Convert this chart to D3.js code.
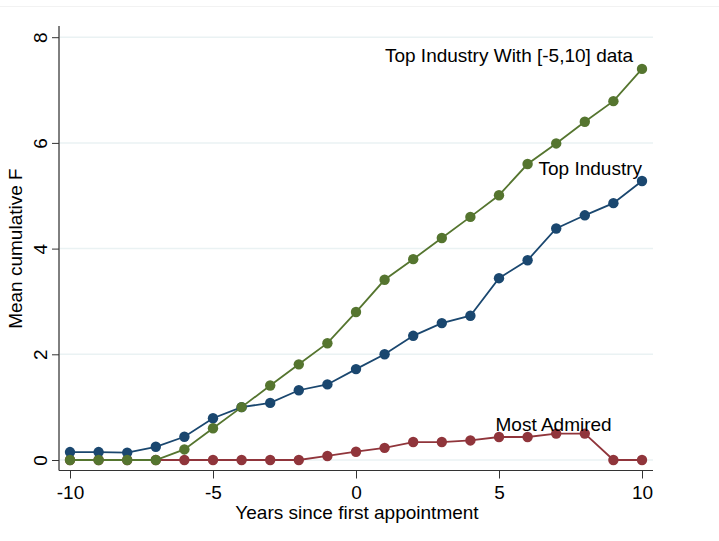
<!DOCTYPE html>
<html>
<head>
<meta charset="utf-8">
<script src="https://cdn.jsdelivr.net/npm/d3@7"></script>
<style>
  html, body { margin: 0; padding: 0; background: #fff; }
  svg { display: block; font-family: "Liberation Sans", Arial, sans-serif; }
</style>
</head>
<body>
<svg id="chart" width="719" height="541"></svg>
<script>
// ---- data ----
const years = [-10,-9,-8,-7,-6,-5,-4,-3,-2,-1,0,1,2,3,4,5,6,7,8,9,10];
const topIndustry = [0.15,0.15,0.14,0.25,0.44,0.79,1.0,1.08,1.32,1.43,1.72,2.0,2.35,2.59,2.73,3.44,3.78,4.38,4.63,4.86,5.28];
const topIndustryWith = [0,0,0,0,0.2,0.6,1.0,1.41,1.81,2.21,2.8,3.41,3.8,4.2,4.6,5.01,5.6,5.99,6.4,6.79,7.4];
const mostAdmired = [0,0,0,0,0,0,0,0,0,0.076,0.157,0.23,0.34,0.34,0.37,0.435,0.435,0.5,0.5,0,0];
const xTicks = [-10,-5,0,5,10];
const yTicks = [0,2,4,6,8];
const seriesNames = ["Most Admired","Top Industry","Top Industry With [-5,10] data"];
const xTitle = "Years since first appointment";
const yTitle = "Mean cumulative F";
// label anchors (data units)
const labelX = [8.94, 10.0, 9.69];
const labelY = [0.55, 5.39, 7.53];

// ---- layout ----
const svg = d3.select("#chart");
const colors = ["#90353b","#1a476f","#55752f"];
const x = d3.scaleLinear().domain([-10,10]).range([70,642]);
const y = d3.scaleLinear().domain([0,8]).range([460,37.2]);
const plotLeft = 59, plotRight = 653, axisY = 470.5, axisTop = 26;
const fs = 19;
const fmt = d => String(d);

// faint top line
svg.append("line").attr("x1",0).attr("x2",719).attr("y1",6.5).attr("y2",6.5)
  .attr("stroke","#f2f2f2").attr("stroke-width",1);

// gridlines
svg.append("g").selectAll("line").data(yTicks).join("line")
  .attr("x1",plotLeft+1).attr("x2",plotRight)
  .attr("y1",d=>y(d)).attr("y2",d=>y(d))
  .attr("stroke","#eaf2f3").attr("stroke-width",1.5);

// y axis
const yAxis = d3.axisLeft(y).tickValues(yTicks).tickSize(7).tickPadding(6).tickFormat(fmt);
const gy = svg.append("g").attr("transform",`translate(${plotLeft},0)`).call(yAxis);
gy.select(".domain").attr("d",`M0,${axisTop}V${axisY}`).attr("stroke","#000");
gy.selectAll(".tick line").attr("stroke","#333");
gy.selectAll(".tick text")
  .attr("font-size",fs).attr("fill","#000").attr("font-family","Liberation Sans, Arial, sans-serif")
  .attr("text-anchor","middle").attr("x",null).attr("dy",null)
  .attr("transform","translate(-19,0) rotate(-90)")
  .attr("dominant-baseline","central");

// x axis
const xAxis = d3.axisBottom(x).tickValues(xTicks).tickSize(8).tickPadding(5).tickFormat(fmt);
const gx = svg.append("g").attr("transform",`translate(0,${axisY})`).call(xAxis);
gx.select(".domain").attr("d",`M${plotLeft},0H${plotRight}`).attr("stroke","#333");
gx.selectAll(".tick line").attr("stroke","#333");
gx.selectAll(".tick text").attr("font-size",fs).attr("fill","#000")
  .attr("font-family","Liberation Sans, Arial, sans-serif").attr("dy","0.8em");

// axis titles
svg.append("text").attr("x",357).attr("y",518.5).attr("text-anchor","middle")
  .attr("font-size",fs).attr("fill","#000").text(xTitle);
svg.append("text").attr("transform",`translate(22,${(y(0)+y(8))/2}) rotate(-90)`)
  .attr("text-anchor","middle").attr("font-size",fs).attr("fill","#000").text(yTitle);

// series
const series = [mostAdmired, topIndustry, topIndustryWith];
const line = d3.line().x((d,i)=>x(years[i])).y(d=>y(d));
series.forEach((vals,k)=>{
  const g = svg.append("g");
  g.append("path").datum(vals).attr("d",line).attr("fill","none")
    .attr("stroke",colors[k]).attr("stroke-width",1.8);
  g.selectAll("circle").data(vals).join("circle")
    .attr("cx",(d,i)=>x(years[i])).attr("cy",d=>y(d)).attr("r",5.2)
    .attr("fill",colors[k]);
});

// series labels
svg.append("g").selectAll("text").data(seriesNames).join("text")
  .attr("x",(d,i)=>x(labelX[i])).attr("y",(d,i)=>y(labelY[i]))
  .attr("text-anchor","end").attr("font-size",fs).attr("fill","#000")
  .text(d=>d);
</script>
</body>
</html>
